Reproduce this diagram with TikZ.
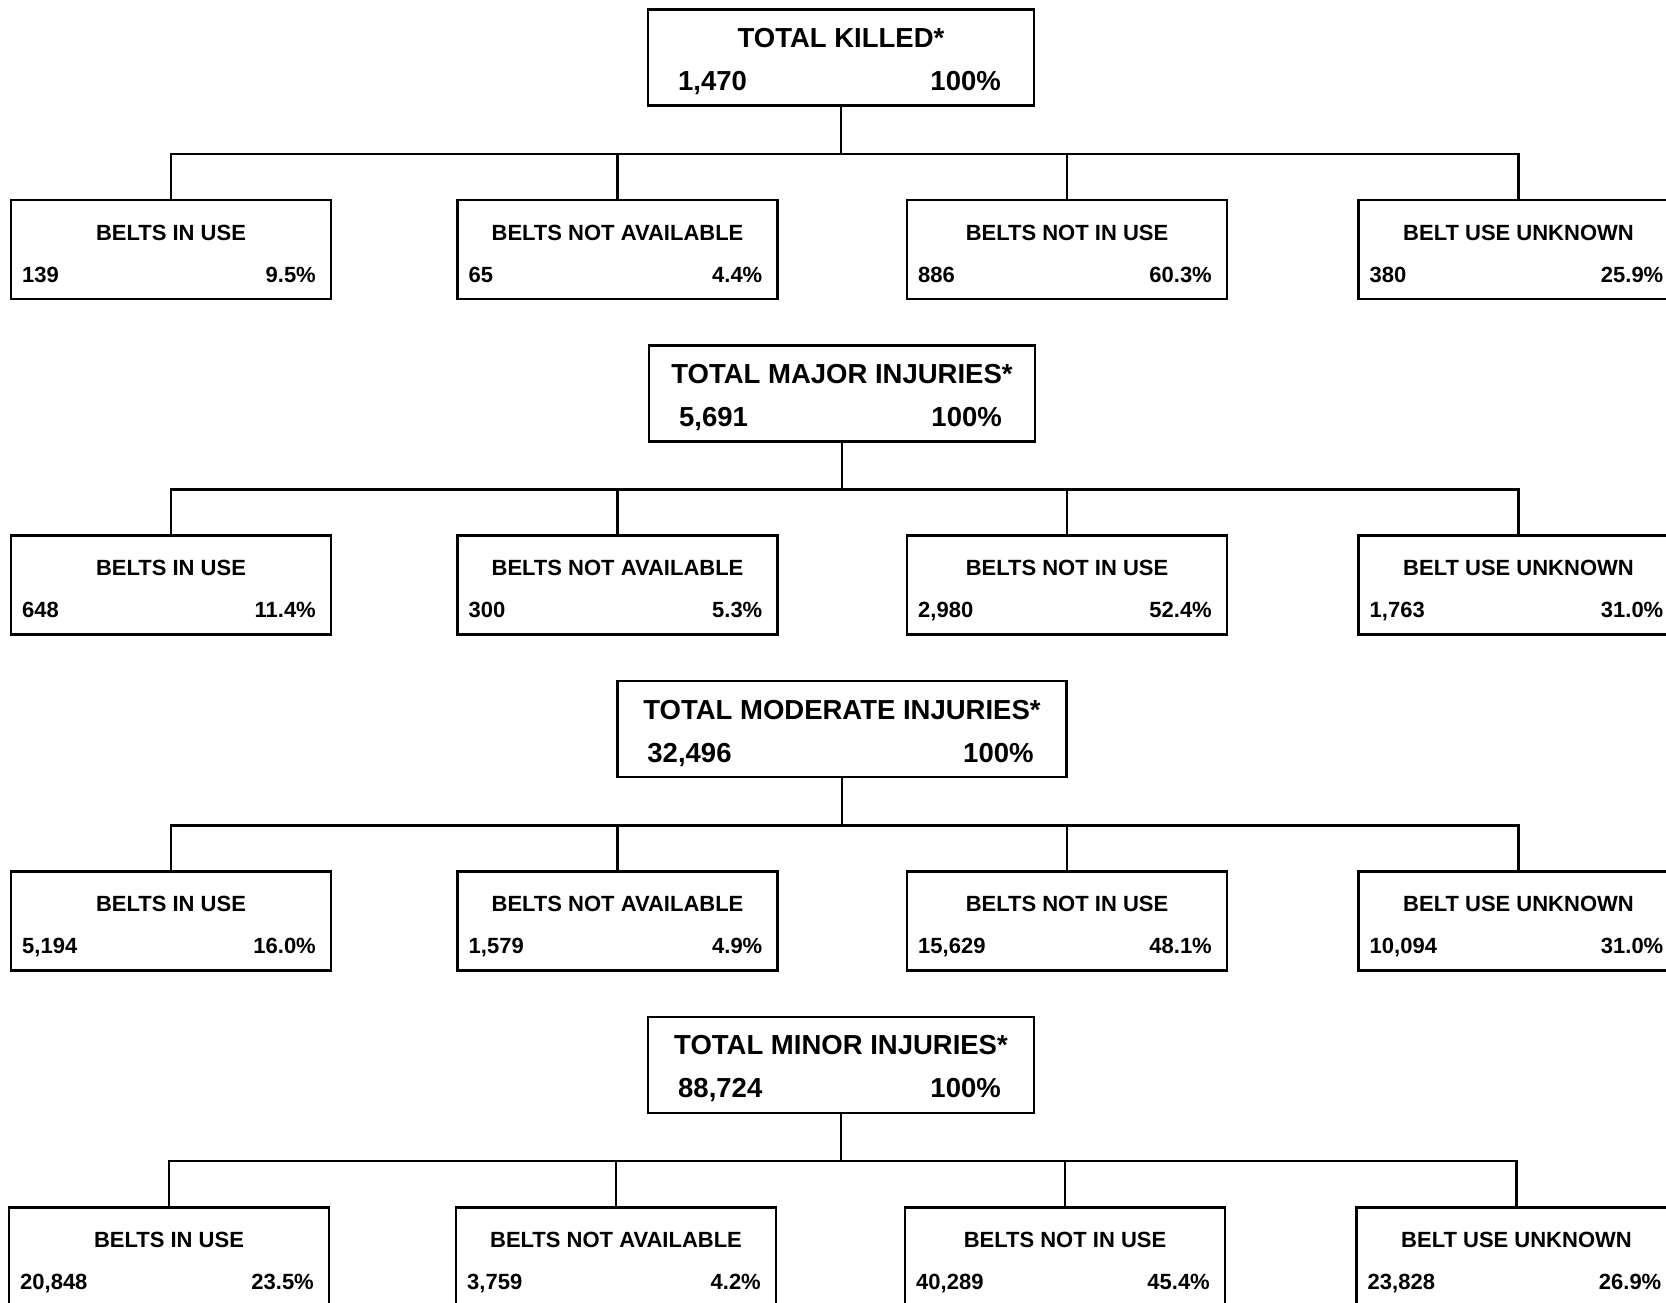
\documentclass[tikz,border=0pt]{standalone}
\usepackage{fontspec}
\setmainfont{Liberation Sans}
\tikzset{
  boxst/.style={draw, line width=2.6pt, rectangle, inner sep=0pt, outer sep=0pt, anchor=north west},
  conn/.style={line width=2.6pt},
  ttl/.style={font=\fontsize{27.5}{30}\selectfont\bfseries, anchor=base, inner sep=0pt},
  lbl/.style={font=\fontsize{22}{24}\selectfont\bfseries, anchor=base, inner sep=0pt},
}
\newcommand\totbox[6]{% name, center x, top y, width, title, number
  \node[boxst, minimum width=#4pt, minimum height=96pt] (#1) at ({#2-#4/2},#3) {};
  \node[ttl] (#1t) at (#2,{#3+38}) {#5};
  \node[ttl, anchor=base west] (#1n) at ({#2-#4/2+30},{#3+81}) {#6};
  \node[ttl, anchor=base east] (#1p) at ({#2+#4/2-33},{#3+81}) {100\%};
}
\newcommand\chbox[6]{% name, center x, top y, label, number, percent
  \node[boxst, minimum width=320pt, minimum height=99pt] (#1) at ({#2-160},#3) {};
  \node[lbl] (#1t) at (#2,{#3+40}) {#4};
  \node[lbl, anchor=base west] (#1n) at ({#2-149},{#3+82}) {#5};
  \node[lbl, anchor=base east] (#1p) at ({#2+145},{#3+82}) {#6};
}
\newcommand\rowlinks[1]{% row index
  \draw[conn] (T#1.south) -- (T#1.south |- B#1);
  \draw[conn] (C#1a.north) |- (B#1) -| (C#1d.north);
  \draw[conn] (C#1b.north) -- (C#1b.north |- B#1);
  \draw[conn] (C#1c.north) -- (C#1c.north |- B#1);
}
\begin{document}
\begin{tikzpicture}[x=1pt, y=-1pt]
\useasboundingbox (0,0) rectangle (1666,1302);
% Row 1
\totbox{T1}{841}{9.6}{386}{TOTAL KILLED*}{1,470}
\coordinate (B1) at (841,154);
\chbox{C1a}{171}{200}{BELTS IN USE}{139}{9.5\%}
\chbox{C1b}{617.5}{200}{BELTS NOT AVAILABLE}{65}{4.4\%}
\chbox{C1c}{1067}{200}{BELTS NOT IN USE}{886}{60.3\%}
\chbox{C1d}{1518.5}{200}{BELT USE UNKNOWN}{380}{25.9\%}
\rowlinks{1}
% Row 2
\totbox{T2}{842}{345.35}{386}{TOTAL MAJOR INJURIES*}{5,691}
\coordinate (B2) at (842,489.75);
\chbox{C2a}{171}{535.75}{BELTS IN USE}{648}{11.4\%}
\chbox{C2b}{617.5}{535.75}{BELTS NOT AVAILABLE}{300}{5.3\%}
\chbox{C2c}{1067}{535.75}{BELTS NOT IN USE}{2,980}{52.4\%}
\chbox{C2d}{1518.5}{535.75}{BELT USE UNKNOWN}{1,763}{31.0\%}
\rowlinks{2}
% Row 3
\totbox{T3}{842}{681.1}{449.5}{TOTAL MODERATE INJURIES*}{32,496}
\coordinate (B3) at (842,825.5);
\chbox{C3a}{171}{871.5}{BELTS IN USE}{5,194}{16.0\%}
\chbox{C3b}{617.5}{871.5}{BELTS NOT AVAILABLE}{1,579}{4.9\%}
\chbox{C3c}{1067}{871.5}{BELTS NOT IN USE}{15,629}{48.1\%}
\chbox{C3d}{1518.5}{871.5}{BELT USE UNKNOWN}{10,094}{31.0\%}
\rowlinks{3}
% Row 4
\totbox{T4}{841}{1016.85}{386}{TOTAL MINOR INJURIES*}{88,724}
\coordinate (B4) at (841,1161);
\chbox{C4a}{169}{1207.25}{BELTS IN USE}{20,848}{23.5\%}
\chbox{C4b}{616}{1207.25}{BELTS NOT AVAILABLE}{3,759}{4.2\%}
\chbox{C4c}{1065}{1207.25}{BELTS NOT IN USE}{40,289}{45.4\%}
\chbox{C4d}{1516.5}{1207.25}{BELT USE UNKNOWN}{23,828}{26.9\%}
\rowlinks{4}
\end{tikzpicture}
\end{document}
